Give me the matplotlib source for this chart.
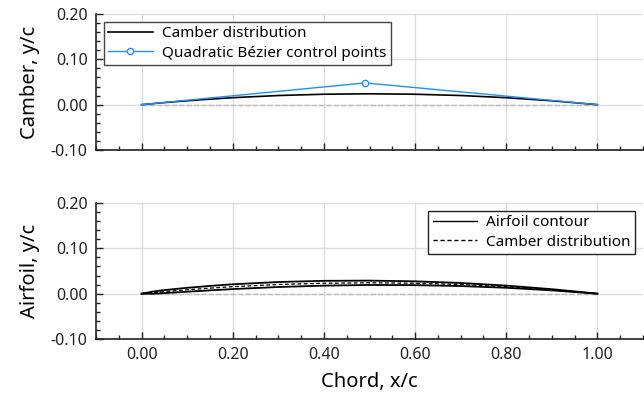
import numpy as np
import matplotlib.pyplot as plt
from matplotlib.ticker import MultipleLocator, FormatStrFormatter

# chord stations and values
x = [0.0, 0.025, 0.05, 0.1, 0.15, 0.2, 0.3, 0.4, 0.5, 0.6, 0.7, 0.8, 0.9, 1.0]
camber = [0.0, 0.0023, 0.0046, 0.0086, 0.0122, 0.0154, 0.0202, 0.0230, 0.0240,
          0.0230, 0.0202, 0.0154, 0.0086, 0.0]
upper = [0.0, 0.0047, 0.0079, 0.0129, 0.0171, 0.0207, 0.0257, 0.0283, 0.0288,
         0.0272, 0.0236, 0.0178, 0.0099, 0.0001]
lower = [0.0, -0.0001, 0.0013, 0.0043, 0.0073, 0.0101, 0.0147, 0.0177, 0.0192,
         0.0188, 0.0168, 0.0130, 0.0073, -0.0001]

# quadratic Bezier control points
ctrl_x = [0.0, 0.49, 1.0]
ctrl_y = [0.0, 0.048, 0.0]

plt.rcParams['font.family'] = ['Noto Sans', 'DejaVu Sans']

fig = plt.figure(figsize=(6.44, 3.98), dpi=100)
ax1 = fig.add_axes([96/644, 1-150/398, 547/644, 136/398])
ax2 = fig.add_axes([96/644, 1-339/398, 547/644, 136/398])

blue = '#1e90ff'

def style(ax):
    ax.set_xlim(-0.1, 1.1)
    ax.set_ylim(-0.1, 0.2)
    ax.xaxis.set_major_locator(MultipleLocator(0.2))
    ax.xaxis.set_minor_locator(MultipleLocator(0.05))
    ax.yaxis.set_major_locator(MultipleLocator(0.1))
    ax.yaxis.set_minor_locator(MultipleLocator(0.02))
    ax.xaxis.set_major_formatter(FormatStrFormatter('%.2f'))
    ax.yaxis.set_major_formatter(FormatStrFormatter('%.2f'))
    ax.grid(True, which='major', color='#dddddd', lw=1)
    ax.set_axisbelow(True)
    for s in ['top', 'right']:
        ax.spines[s].set_visible(False)
    for s in ['left', 'bottom']:
        ax.spines[s].set_color('#222222')
        ax.spines[s].set_linewidth(1.2)
    ax.tick_params(which='major', direction='in', length=5, width=1, color='#222222')
    ax.tick_params(which='minor', direction='in', length=3, width=1, color='#222222')
    ax.tick_params(labelsize=11.5, pad=6, labelcolor='#222222')
    ax.plot([0, 1], [0, 0], color='#bbbbbb', ls='--', lw=1, zorder=1)

style(ax1)
ax1.plot(x, camber, color='black', lw=1.2, label='Camber distribution')
ax1.plot(ctrl_x, ctrl_y, color=blue, lw=1, marker='o', markevery=[1],
         markersize=4.5, markerfacecolor='white', markeredgecolor=blue,
         markeredgewidth=1, label='Quadratic Bézier control points')
ax1.tick_params(labelbottom=False)
ax1.set_ylabel('Camber, y/c', fontsize=14.5, labelpad=8)
leg = ax1.legend(loc='upper left', fancybox=False, framealpha=1, edgecolor='#444444',
                 borderaxespad=0.5, handlelength=2.9, handletextpad=0.6, borderpad=0.3,
                 labelspacing=0.3, fontsize=11)
leg.get_frame().set_linewidth(1)

style(ax2)
ax2.plot(x, upper, color='black', lw=1.3, label='Airfoil contour')
ax2.plot(x, lower, color='black', lw=1.3)
ax2.plot(x, camber, color='black', lw=0.9, ls=(0, (3, 2)), label='Camber distribution')
ax2.set_ylabel('Airfoil, y/c', fontsize=14.5, labelpad=8)
ax2.set_xlabel('Chord, x/c', fontsize=14.5, labelpad=6)
leg2 = ax2.legend(loc='upper right', fancybox=False, framealpha=1, edgecolor='#222222',
                  borderaxespad=0.5, handlelength=2.9, handletextpad=0.6, borderpad=0.3,
                  labelspacing=0.3, fontsize=11)
leg2.get_frame().set_linewidth(1)
for line in leg2.get_lines():
    line.set_linewidth(1)

fig.savefig('out.png', dpi=100)
